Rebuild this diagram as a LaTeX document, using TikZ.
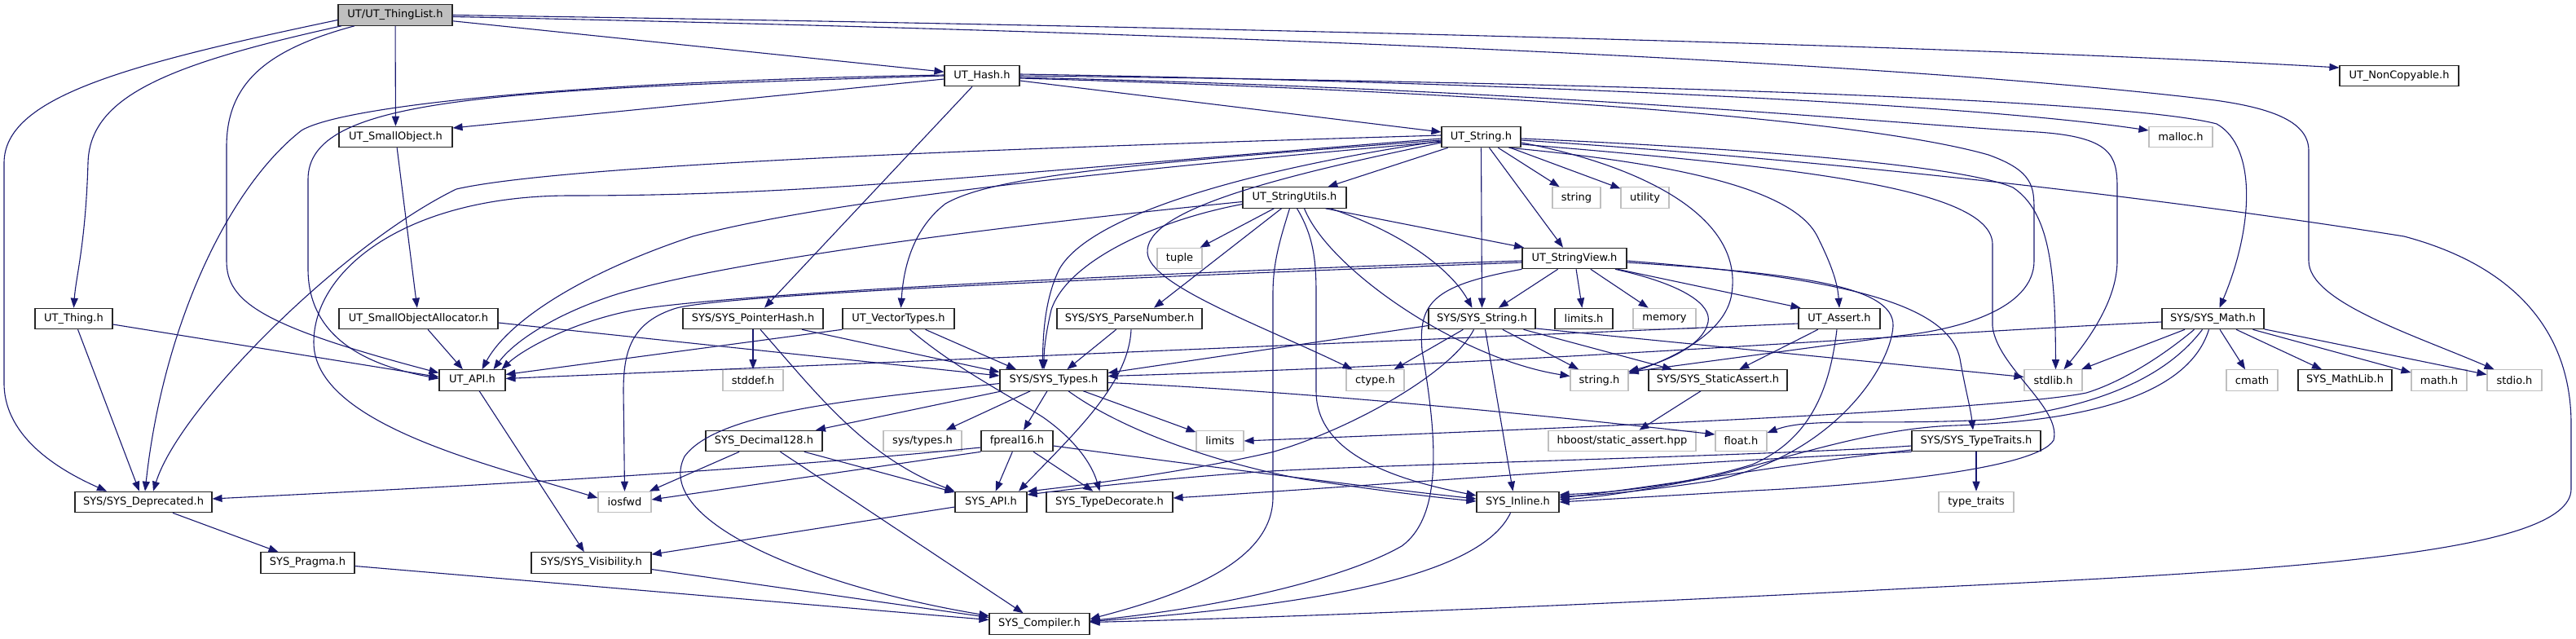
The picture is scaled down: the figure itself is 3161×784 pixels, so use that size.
\documentclass[tikz,border=0pt]{standalone}
\usepackage{fontspec}
\setmainfont{DejaVu Sans}
\usetikzlibrary{arrows.meta}
\definecolor{edgec}{HTML}{191970}
\definecolor{grayb}{HTML}{BFBFBF}
\begin{document}
\begin{tikzpicture}[x=1pt,y=-1pt,
  fn/.style={draw=black!85, line width=1.1pt, fill=white, minimum height=25.5pt, inner sep=0pt, font=\fontsize{13}{15}\selectfont, text=black},
  sn/.style={fn, draw=grayb},
  e/.style={draw=edgec, line width=1.1pt, -{Triangle[length=12pt,width=9pt]}}]
\useasboundingbox[fill=white] (0,0) rectangle (3161,784);
% ---------- nodes ----------
\node[fn, minimum width=140pt, fill=grayb] (TL) at (485,18.5) {UT/UT\_ThingList.h};
\node[fn, minimum width=92pt] (Hash) at (1205,93) {UT\_Hash.h};
\node[fn, minimum width=146pt] (NonCopy) at (2944,93) {UT\_NonCopyable.h};
\node[fn, minimum width=139pt] (SmallObj) at (485.5,168) {UT\_SmallObject.h};
\node[fn, minimum width=97pt] (String) at (1817.5,168) {UT\_String.h};
\node[sn, minimum width=78pt] (malloc) at (2676,168) {malloc.h};
\node[fn, minimum width=127pt] (StrUtils) at (1588.5,242.5) {UT\_StringUtils.h};
\node[sn, minimum width=59pt] (stringS) at (1934.5,242.5) {string};
\node[sn, minimum width=59pt] (utility) at (2018.5,242.5) {utility};
\node[sn, minimum width=55pt] (tuple) at (1447.5,317) {tuple};
\node[fn, minimum width=128pt] (StrView) at (1932,317) {UT\_StringView.h};
\node[fn, minimum width=95pt] (Thing) at (90.5,391) {UT\_Thing.h};
\node[fn, minimum width=195pt] (SOA) at (513.5,391) {UT\_SmallObjectAllocator.h};
\node[fn, minimum width=172pt] (PtrHash) at (924,391) {SYS/SYS\_PointerHash.h};
\node[fn, minimum width=137pt] (VecTypes) at (1102.5,391) {UT\_VectorTypes.h};
\node[fn, minimum width=178pt] (ParseNum) at (1386,391) {SYS/SYS\_ParseNumber.h};
\node[fn, minimum width=131pt] (SysString) at (1818.5,391) {SYS/SYS\_String.h};
\node[fn, minimum width=71pt] (limitsh) at (1943.5,391) {limits.h};
\node[sn, minimum width=77pt] (memory) at (2042.5,391) {memory};
\node[fn, minimum width=100pt] (Assert) at (2257,391) {UT\_Assert.h};
\node[fn, minimum width=125pt] (Math) at (2715.5,391) {SYS/SYS\_Math.h};
\node[fn, minimum width=81pt] (API) at (579.5,466.5) {UT\_API.h};
\node[sn, minimum width=74pt] (stddef) at (924,466.5) {stddef.h};
\node[fn, minimum width=132pt] (Types) at (1293,466.5) {SYS/SYS\_Types.h};
\node[sn, minimum width=71pt] (ctype) at (1687.5,466.5) {ctype.h};
\node[sn, minimum width=71pt] (stringh) at (1962.5,466.5) {string.h};
\node[fn, minimum width=170pt] (StaticAssert) at (2108,466.5) {SYS/SYS\_StaticAssert.h};
\node[sn, minimum width=71pt] (stdlib) at (2519.5,466.5) {stdlib.h};
\node[sn, minimum width=63pt] (cmath) at (2763.5,466.5) {cmath};
\node[fn, minimum width=115pt] (MathLib) at (2877.5,466.5) {SYS\_MathLib.h};
\node[sn, minimum width=68pt] (mathh) at (2993,466.5) {math.h};
\node[sn, minimum width=67pt] (stdio) at (3085.5,466.5) {stdio.h};
\node[fn, minimum width=143pt] (Dec128) at (937.5,541) {SYS\_Decimal128.h};
\node[sn, minimum width=96pt] (systypes) at (1132,541) {sys/types.h};
\node[fn, minimum width=88pt] (fpreal) at (1248,541) {fpreal16.h};
\node[sn, minimum width=58pt] (limits) at (1497,541) {limits};
\node[sn, minimum width=181pt] (hboost) at (1990.5,541) {hboost/static\_assert.hpp};
\node[sn, minimum width=63pt] (floath) at (2136.5,541) {float.h};
\node[fn, minimum width=158pt] (TypeTraits) at (2425,541) {SYS/SYS\_TypeTraits.h};
\node[fn, minimum width=168pt] (Deprecated) at (176,616) {SYS/SYS\_Deprecated.h};
\node[sn, minimum width=65pt] (iosfwd) at (766.5,616) {iosfwd};
\node[fn, minimum width=88pt] (SysAPI) at (1216,616) {SYS\_API.h};
\node[fn, minimum width=155pt] (TypeDec) at (1361.5,616) {SYS\_TypeDecorate.h};
\node[fn, minimum width=101pt] (Inline) at (1862.5,616) {SYS\_Inline.h};
\node[sn, minimum width=92pt] (typetraits) at (2425,616) {type\_traits};
\node[fn, minimum width=115pt] (Pragma) at (377.5,690.5) {SYS\_Pragma.h};
\node[fn, minimum width=147pt] (Visibility) at (725.5,690.5) {SYS/SYS\_Visibility.h};
\node[fn, minimum width=123pt] (Compiler) at (1275.5,765.5) {SYS\_Compiler.h};
% ---------- edges: UT_ThingList ----------
\draw[e] (TL) -- (Hash);
\draw[e] (TL.east) .. controls (1200,28) and (2300,50) .. ([yshift=10pt]NonCopy.west);
\draw[e] (TL) -- (SmallObj);
\draw[e] ([xshift=-66pt]TL.south) .. controls (200,80) and (110,120) .. (108,200) .. controls (105,300) and (93,340) .. (Thing.north);
\draw[e] ([xshift=-50pt]TL.south) .. controls (330,60) and (278,100) .. (278,180) -- (278,320) .. controls (278,370) and (320,400) .. ([yshift=9pt]API.west);
\draw[e] ([yshift=-6pt]TL.west) .. controls (150,80) and (5,120) .. (5,200) -- (5,470) .. controls (5,540) and (80,580) .. ([xshift=-45pt]Deprecated.north);
\draw[e] ([yshift=-2pt]TL.east) .. controls (1400,38) and (2300,72) .. (2718,123) .. controls (2790,133) and (2833,150) .. (2833,185) -- (2833,320) .. controls (2833,370) and (2960,410) .. ([xshift=-25pt]stdio.north);
% ---------- UT_Hash ----------
\draw[e] ([yshift=-4pt]Hash.west) -- ([yshift=11pt]SmallObj.east);
\draw[e] ([yshift=-6pt]Hash.east) -- ([yshift=6pt]String.west);
\draw[e] (Hash.west) .. controls (600,110) and (378,120) .. (378,220) -- (378,330) .. controls (378,420) and (460,450) .. ([yshift=2pt]API.west);
\draw[e] ([yshift=1pt]Hash.west) .. controls (700,100) and (420,130) .. (370,160) .. controls (280,230) and (200,400) .. ([xshift=2pt]Deprecated.north);
\draw[e] ([xshift=-12pt]Hash.south) -- ([xshift=14pt]PtrHash.north);
\draw[e] ([yshift=2pt]Hash.east) .. controls (1800,100) and (2400,125) .. ([yshift=8pt]malloc.west);
\draw[e] (Hash.east) .. controls (1900,100) and (2600,120) .. (2720,152) .. controls (2770,180) and (2765,280) .. ([xshift=8pt]Math.north);
\draw[e] ([yshift=-2pt]Hash.east) .. controls (1900,110) and (2300,150) .. (2500,162) .. controls (2590,168) and (2598,190) .. (2598,230) -- (2598,320) .. controls (2598,370) and (2560,420) .. ([xshift=13pt]stdlib.north);
\draw[e] ([yshift=-3pt]Hash.east) .. controls (1900,115) and (2300,150) .. (2440,190) .. controls (2496,210) and (2496,230) .. (2496,260) -- (2496,320) .. controls (2496,380) and (2400,405) .. (2330,412) -- ([yshift=10pt]stringh.east);
% ---------- UT_String ----------
\draw[e] ([yshift=2pt]String.west) .. controls (1300,180) and (700,200) .. (560,232) .. controls (420,300) and (220,500) .. ([xshift=12pt]Deprecated.north);
\draw[e] ([yshift=-2pt]String.west) .. controls (1200,215) and (1000,240) .. (700,240) .. controls (500,240) and (385,330) .. (385,420) .. controls (385,520) and (600,570) .. ([yshift=5pt]iosfwd.west);
\draw[e] ([yshift=-6pt]String.west) .. controls (1300,215) and (1000,250) .. (850,290) .. controls (700,340) and (620,400) .. ([xshift=12pt]API.north);
\draw[e] ([yshift=-4pt]String.west) .. controls (1400,200) and (1220,215) .. (1160,250) .. controls (1115,285) and (1108,340) .. ([xshift=3pt]VecTypes.north);
\draw[e] ([yshift=-5pt]String.west) .. controls (1550,205) and (1340,260) .. (1300,330) .. controls (1280,370) and (1280,420) .. ([xshift=-14pt]Types.north);
\draw[e] ([yshift=-7pt]String.west) .. controls (1550,220) and (1405,260) .. (1408,310) .. controls (1410,350) and (1550,400) .. ([xshift=-28pt]ctype.north);
\draw[e] (String) -- (StrUtils);
\draw[e] (String.south) -- (SysString.north);
\draw[e] ([xshift=10pt]String.south) -- ([xshift=-14pt]StrView.north);
\draw[e] (String) -- (stringS);
\draw[e] (String) -- (utility);
\draw[e] ([yshift=-7pt]String.east) .. controls (2000,200) and (2140,260) .. (2125,360) .. controls (2118,410) and (2050,440) .. ([yshift=8pt]stringh.east);
\draw[e] ([xshift=34pt]String.south) .. controls (2050,200) and (2200,230) .. (2230,290) .. controls (2250,330) and (2255,350) .. (Assert.north);
\draw[e] ([yshift=-2pt]String.east) .. controls (2100,180) and (2400,200) .. (2470,230) .. controls (2515,260) and (2522,330) .. ([xshift=3pt]stdlib.north);
\draw[e] ([yshift=-4pt]String.east) .. controls (2300,200) and (2700,250) .. (2950,290) .. controls (3100,330) and (3155,420) .. (3155,520) -- (3155,600) .. controls (3155,680) and (2800,700) .. (2361,721) .. controls (2000,740) and (1600,757) .. ([yshift=2pt]Compiler.east);
\draw[e] ([yshift=-9pt]String.east) .. controls (2200,205) and (2445,230) .. (2445,300) -- (2445,400) .. controls (2450,450) and (2530,500) .. (2520,540) .. controls (2500,575) and (2300,595) .. (2150,602) .. controls (2050,608) and (1980,612) .. (Inline.east);
% ---------- UT_StringUtils ----------
\draw[e] (StrUtils) -- (tuple);
\draw[e] ([xshift=-16pt]StrUtils.south) -- ([xshift=30pt]ParseNum.north);
\draw[e] ([yshift=-8pt]StrUtils.west) .. controls (1420,270) and (1310,320) .. (1290,380) .. controls (1283,410) and (1281,430) .. ([xshift=-12pt]Types.north);
\draw[e] ([yshift=-5pt]StrUtils.west) .. controls (1200,280) and (900,320) .. (760,360) .. controls (680,385) and (630,420) .. ([xshift=26pt]API.north);
\draw[e] ([xshift=38pt]StrUtils.south) -- ([xshift=-62pt]StrView.north);
\draw[e] ([xshift=44pt]StrUtils.south) .. controls (1720,285) and (1780,330) .. ([xshift=-12pt]SysString.north);
\draw[e] ([xshift=12pt]StrUtils.south) .. controls (1630,330) and (1790,440) .. ([yshift=5pt]stringh.west);
\draw[e] ([xshift=3pt]StrUtils.south) .. controls (1612,290) and (1615,320) .. (1615,360) -- (1615,480) .. controls (1615,560) and (1720,590) .. ([yshift=8pt]Inline.west);
\draw[e] ([xshift=-6pt]StrUtils.south) .. controls (1572,290) and (1562,320) .. (1562,360) -- (1562,610) .. controls (1562,690) and (1450,730) .. ([yshift=6pt]Compiler.east);
% ---------- UT_StringView ----------
\draw[e] ([yshift=-3pt]StrView.west) .. controls (1400,335) and (900,360) .. (780,380) .. controls (700,395) and (640,430) .. ([xshift=36pt]API.north);
\draw[e] ([yshift=-5pt]StrView.west) .. controls (1400,340) and (900,360) .. (830,378) .. controls (775,395) and (765,430) .. (765,480) -- (iosfwd.north);
\draw[e] (StrView) -- (SysString);
\draw[e] (StrView) -- (limitsh);
\draw[e] (StrView) -- (memory);
\draw[e] ([xshift=53pt]StrView.south) -- ([xshift=3pt]Assert.north west);
\draw[e] ([xshift=50pt]StrView.south) .. controls (2070,350) and (2100,375) .. (2096,395) .. controls (2090,425) and (2040,445) .. ([yshift=11pt]stringh.east);
\draw[e] ([yshift=-5pt]StrView.east) .. controls (2200,335) and (2325,350) .. (2323,400) .. controls (2320,450) and (2250,560) .. (2100,590) .. controls (2000,605) and (1950,608) .. ([yshift=7pt]Inline.east);
\draw[e] ([yshift=-3pt]StrView.east) .. controls (2250,340) and (2390,370) .. (2405,440) .. controls (2412,480) and (2418,500) .. ([xshift=-4pt]TypeTraits.north);
\draw[e] (StrView.south west) .. controls (1760,350) and (1740,370) .. (1745,430) .. controls (1760,520) and (1775,630) .. (1720,670) .. controls (1650,710) and (1500,745) .. ([yshift=4pt]Compiler.east);
% ---------- SYS_String ----------
\draw[e] (SysString) -- (ctype);
\draw[e] (SysString) -- (stringh);
\draw[e] ([xshift=51pt]SysString.south) -- ([xshift=-56pt]StaticAssert.north);
\draw[e] ([xshift=4pt]SysString.south) -- ([xshift=-6pt]Inline.north);
\draw[e] ([yshift=-8.5pt]SysString.west) -- ([yshift=9pt]Types.east);
\draw[e] ([xshift=-10pt]SysString.south) .. controls (1780,460) and (1650,530) .. (1560,555) .. controls (1450,580) and (1330,595) .. ([yshift=13pt]SysAPI.east);
\draw[e] ([yshift=-12pt]SysString.east) -- ([yshift=4pt]stdlib.west);
% ---------- UT_Assert ----------
\draw[e] ([yshift=-6pt]Assert.west) -- ([yshift=2pt]API.east);
\draw[e] (Assert) -- (StaticAssert);
\draw[e] ([xshift=-3pt]Assert.south) .. controls (2245,480) and (2220,540) .. (2150,570) .. controls (2050,600) and (1960,605) .. ([yshift=9pt]Inline.east);
% ---------- SYS_Math ----------
\draw[e] ([yshift=-4pt]Math.west) .. controls (2300,412) and (1900,445) .. ([yshift=5pt]Types.east);
\draw[e] (Math) -- (stdlib);
\draw[e] ([xshift=-23pt]Math.south) .. controls (2650,440) and (2600,470) .. (2560,482) .. controls (2450,505) and (1800,530) .. (limits.east);
\draw[e] ([xshift=-13pt]Math.south) .. controls (2660,460) and (2580,500) .. (2440,515) .. controls (2300,522) and (2220,512) .. ([yshift=10pt]floath.east);
\draw[e] ([xshift=-5pt]Math.south) .. controls (2690,470) and (2600,515) .. (2400,522) .. controls (2300,525) and (2200,560) .. (2100,585) .. controls (2000,605) and (1950,611) .. ([yshift=3pt]Inline.east);
\draw[e] (Math) -- (cmath);
\draw[e] (Math) -- (MathLib);
\draw[e] (Math) -- (mathh);
\draw[e] (Math) -- (stdio);
% ---------- SYS_TypeTraits ----------
\draw[e] (TypeTraits) -- (typetraits);
\draw[e] ([yshift=-6pt]TypeTraits.west) .. controls (2200,558) and (1700,570) .. (1560,578) .. controls (1450,585) and (1330,598) .. ([yshift=9pt]SysAPI.east);
\draw[e] ([yshift=-11pt]TypeTraits.west) .. controls (2200,568) and (2050,595) .. ([yshift=5pt]Inline.east);
\draw[e] (TypeTraits.south west) .. controls (2000,570) and (1700,595) .. ([yshift=5pt]TypeDec.east);
% ---------- small objects / thing ----------
\draw[e] (SmallObj) -- (SOA);
\draw[e] (SOA) -- (API);
\draw[e] ([yshift=-5pt]SOA.east) -- ([yshift=5.5pt]Types.west);
\draw[e] ([yshift=-7pt]Thing.east) -- ([yshift=4pt]API.west);
\draw[e] (Thing) -- (Deprecated);
\draw[e] (API) -- (Visibility);
\draw[e] (Deprecated) -- (Pragma);
\draw[e] ([yshift=-4pt]Pragma.east) -- ([yshift=5pt]Compiler.west);
\draw[e] ([yshift=-8pt]Visibility.east) -- ([yshift=8pt]Compiler.west);
\draw[e] ([yshift=-6pt]SysAPI.west) -- ([yshift=-3pt]Visibility.north east);
% ---------- pointer hash / vector types / parse number ----------
\draw[e] (PtrHash.south) -- (stddef.north);
\draw[e] ([xshift=60pt]PtrHash.south) -- ([yshift=10pt]Types.west);
\draw[e] ([xshift=9pt]PtrHash.south) .. controls (1000,480) and (1060,560) .. (SysAPI.north west);
\draw[e] (VecTypes.south west) -- ([yshift=7pt]API.east);
\draw[e] ([xshift=33pt]VecTypes.south) -- ([xshift=-46pt]Types.north);
\draw[e] ([xshift=14pt]VecTypes.south) .. controls (1170,450) and (1230,480) .. (1280,512) .. controls (1320,540) and (1340,570) .. ([xshift=-12pt]TypeDec.north);
\draw[e] (ParseNum) -- (Types);
\draw[e] ([xshift=2pt]ParseNum.south) .. controls (1385,470) and (1320,530) .. ([xshift=34pt]SysAPI.north);
% ---------- SYS_Types ----------
\draw[e] (Types) -- (Dec128);
\draw[e] (Types) -- (systypes);
\draw[e] (Types) -- (fpreal);
\draw[e] (Types) -- (limits);
\draw[e] ([xshift=18pt]Types.south) .. controls (1380,530) and (1500,570) .. (1600,588) .. controls (1700,603) and (1760,610) .. ([yshift=1pt]Inline.west);
\draw[e] ([yshift=-3pt]Types.east) .. controls (1600,480) and (1900,510) .. ([yshift=8pt]floath.west);
\draw[e] ([yshift=-4pt]Types.west) .. controls (1050,490) and (880,505) .. (840,560) .. controls (800,640) and (1000,720) .. ([yshift=10pt]Compiler.west);
% ---------- Decimal128 / fpreal16 ----------
\draw[e] (Dec128) -- (iosfwd);
\draw[e] (Dec128) -- (SysAPI);
\draw[e] (Dec128) -- (Compiler);
\draw[e] ([yshift=-8pt]fpreal.west) .. controls (900,580) and (500,600) .. ([yshift=4pt]Deprecated.east);
\draw[e] (fpreal.south west) -- ([yshift=3pt]iosfwd.east);
\draw[e] (fpreal) -- (SysAPI);
\draw[e] (fpreal) -- (TypeDec);
\draw[e] ([yshift=-6pt]fpreal.east) .. controls (1500,575) and (1700,600) .. ([yshift=4pt]Inline.west);
% ---------- misc ----------
\draw[e] (StaticAssert) -- (hboost);
\draw[e] ([xshift=-9pt]Inline.south) .. controls (1820,700) and (1650,740) .. ([yshift=3pt]Compiler.east);
\end{tikzpicture}
\end{document}
